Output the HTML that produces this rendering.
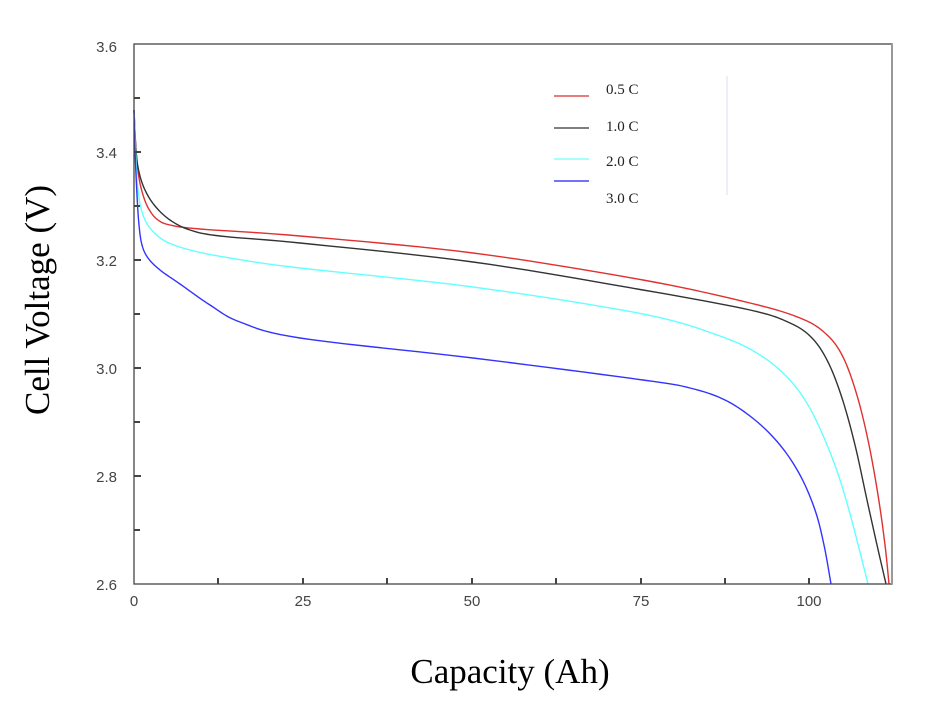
<!DOCTYPE html><html><head><style>body{margin:0;background:#fff}</style></head><body>
<svg id="s" width="934" height="701" xmlns="http://www.w3.org/2000/svg">
<rect width="934" height="701" fill="#fff"/>
<g fill="none" stroke-width="1.4" stroke-linejoin="round">
<polyline class="c" stroke="#e03030" points="134,110 136,150 139,178 144,198 150,211 158,220 170,225 200,229 300,236 473,253 643,280 750,303 800,318 825,333 842,355 856,392 868,440 878,495 885,545 889,584"/>
<polyline class="c" stroke="#333" points="134,110 136,150 139,172 145,190 155,206 170,220 190,230 220,236 300,243 473,262 643,290 750,310 790,323 812,338 828,362 842,398 855,445 867,500 877,545 886,584"/>
<polyline class="c" stroke="#6ff" points="134,110 136,160 138,190 142,212 150,228 165,241 190,250 230,258 300,268 473,287 643,314 720,336 760,355 788,378 808,405 825,440 840,480 853,525 868,584"/>
<polyline class="c" stroke="#33f" points="134,110 135,150 137,195 139,225 142,245 148,258 160,270 180,284 210,305 240,322 300,338 473,358 643,380 690,388 725,400 755,420 780,445 800,475 815,510 824,545 831,584"/>
</g>
<rect x="134" y="44" width="758" height="540" fill="none" stroke="#444" stroke-width="1.3"/>
<line x1="892" y1="44" x2="892" y2="584" stroke="#999" stroke-width="2"/>
<g stroke="#444" stroke-width="2">
<line x1="134" y1="98" x2="140" y2="98"/><line x1="134" y1="152" x2="141" y2="152"/><line x1="134" y1="206" x2="140" y2="206"/><line x1="134" y1="260" x2="141" y2="260"/><line x1="134" y1="314" x2="140" y2="314"/><line x1="134" y1="368" x2="141" y2="368"/><line x1="134" y1="422" x2="140" y2="422"/><line x1="134" y1="476" x2="141" y2="476"/><line x1="134" y1="530" x2="140" y2="530"/>
<line x1="218" y1="584" x2="218" y2="578"/><line x1="303" y1="584" x2="303" y2="578"/><line x1="387" y1="584" x2="387" y2="578"/><line x1="472" y1="584" x2="472" y2="578"/><line x1="556" y1="584" x2="556" y2="578"/><line x1="641" y1="584" x2="641" y2="578"/><line x1="725" y1="584" x2="725" y2="578"/><line x1="809" y1="584" x2="809" y2="578"/>
</g>
<g font-family="Liberation Sans, sans-serif" font-size="15" fill="#444" text-anchor="end">
<text x="117" y="52">3.6</text><text x="117" y="158">3.4</text><text x="117" y="266">3.2</text><text x="117" y="374">3.0</text><text x="117" y="482">2.8</text><text x="117" y="590">2.6</text>
</g>
<g font-family="Liberation Sans, sans-serif" font-size="15" fill="#444" text-anchor="middle">
<text x="134" y="606">0</text><text x="303" y="606">25</text><text x="472" y="606">50</text><text x="641" y="606">75</text><text x="809" y="606">100</text>
</g>
<line x1="727" y1="76" x2="727" y2="195" stroke="#dde" stroke-width="1"/>
<g stroke-width="1.5">
<line x1="554" y1="96" x2="589" y2="96" stroke="#e05050"/>
<line x1="554" y1="128" x2="589" y2="128" stroke="#555"/>
<line x1="554" y1="159" x2="589" y2="159" stroke="#8ff"/>
<line x1="554" y1="181" x2="589" y2="181" stroke="#44f"/>
</g>
<g font-family="Liberation Serif, serif" font-size="15" fill="#222">
<text x="606" y="94">0.5 C</text><text x="606" y="131">1.0 C</text><text x="606" y="166">2.0 C</text><text x="606" y="203">3.0 C</text>
</g>
<text x="510" y="683" font-family="Liberation Serif, serif" font-size="35" text-anchor="middle" fill="#000">Capacity (Ah)</text>
<text transform="translate(49,300) rotate(-90)" font-family="Liberation Serif, serif" font-size="35" text-anchor="middle" fill="#000">Cell Voltage (V)</text>
</svg>
<script>
document.querySelectorAll('polyline.c').forEach(function(pl){
 var p=pl.getAttribute('points').trim().split(/\s+/).map(function(s){return s.split(',').map(Number)});
 var out=[];
 for(var i=0;i<p.length-1;i++){
  var p0=p[Math.max(i-1,0)],p1=p[i],p2=p[i+1],p3=p[Math.min(i+2,p.length-1)];
  for(var t=0;t<1;t+=0.1){
   var t2=t*t,t3=t2*t;
   var x=0.5*((2*p1[0])+(-p0[0]+p2[0])*t+(2*p0[0]-5*p1[0]+4*p2[0]-p3[0])*t2+(-p0[0]+3*p1[0]-3*p2[0]+p3[0])*t3);
   var y=0.5*((2*p1[1])+(-p0[1]+p2[1])*t+(2*p0[1]-5*p1[1]+4*p2[1]-p3[1])*t2+(-p0[1]+3*p1[1]-3*p2[1]+p3[1])*t3);
   out.push(x.toFixed(2)+','+y.toFixed(2));
  }
 }
 out.push(p[p.length-1].join(','));
 pl.setAttribute('points',out.join(' '));
});
</script>
</body></html>
